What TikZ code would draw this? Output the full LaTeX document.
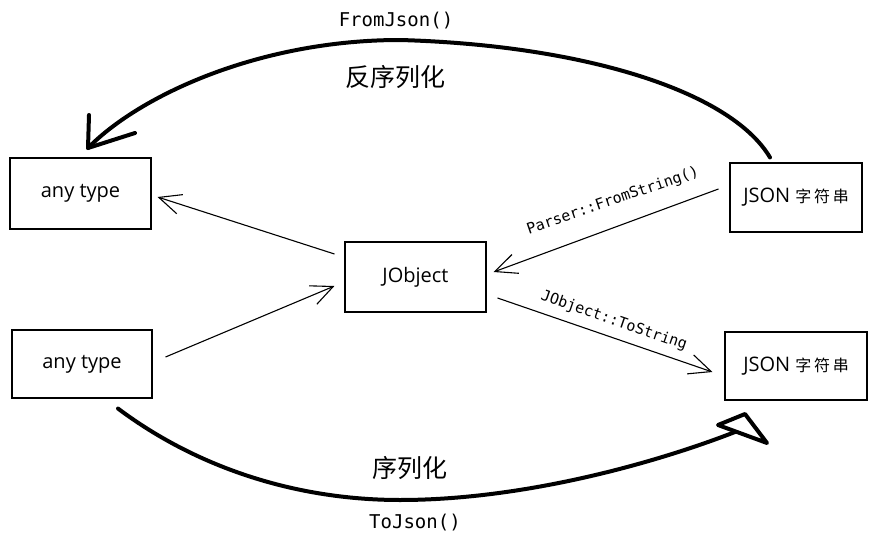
\documentclass[tikz,border=0pt]{standalone}
\usepackage{fontspec}
\setmainfont{Open Sans}
\setmonofont{DejaVu Sans Mono}
\newfontfamily\cjk{Noto Sans CJK SC}
\usetikzlibrary{arrows.meta,calc}
\tikzset{
  box/.style={draw=black,line width=1.1pt,inner sep=0pt,font=\fontsize{20}{20}\selectfont},
  thin/.style={line width=1.1pt,-{Straight Barb[length=22pt,width=20pt,line width=1.1pt]}},
  thick/.style={line width=4pt,line cap=round,line join=round},
  code/.style={font=\ttfamily\fontsize{19}{19}\selectfont,inner sep=0pt},
  smallcode/.style={font=\ttfamily\fontsize{15}{15}\selectfont,inner sep=0pt},
  zh/.style={font=\cjk\fontsize{25}{25}\selectfont,inner sep=0pt}
}
\newcommand{\zhsmall}[1]{{\cjk\fontsize{16}{16}\selectfont #1}}
\begin{document}
\begin{tikzpicture}[x=1pt,y=-1pt]
\useasboundingbox (0,0) rectangle (881,546);
% boxes
\node[box,minimum width=141pt,minimum height=71pt] (any1) at (80.5,193.5) {any type};
\node[box,minimum width=140pt,minimum height=68pt] (any2) at (82,364) {any type};
\node[box,minimum width=141pt,minimum height=70pt] (jobj) at (415.5,277) {JObject};
\node[box,minimum width=132pt,minimum height=69pt] (json1) at (796,197.5) {JSON \zhsmall{字\,符\,串}};
\node[box,minimum width=142pt,minimum height=68pt] (json2) at (796,366) {JSON \zhsmall{字\,符\,串}};
% thin connectors
\draw[thin] ($(jobj.west)+(-10,-23)$) -- ($(any1.east)+(6,3.5)$);
\draw[thin] ($(any2.east)+(13,-7)$) -- ($(jobj.west)+(-10,9)$);
\draw[thin] ($(json1.west)+(-11,-8.5)$) -- ($(jobj.east)+(7,-5)$);
\draw[thin] ($(jobj.east)+(11,21)$) -- ($(json2.west)+(-12,6)$);
% labels on thin connectors
\node[smallcode,rotate=19] (lparse) at (613,201) {Parser::FromString()};
\node[smallcode,rotate=-19] (ltostr) at (614,321) {JObject::ToString};
% big curves
\coordinate (tipA) at (88,148);
\coordinate (tipB) at (735,432);
\draw[thick] ($(json1.north)+(-26,-5)$) .. controls (730,90) and (580,45) .. (400,40)
  .. controls (260,40) and (140,95) .. (tipA);
\draw[thick] (89,115) -- (tipA) -- (135,133);
\draw[thick] ($(any2.south)+(36,10)$) .. controls (200,470) and (300,500) .. (400,500)
  .. controls (520,500) and (650,465) .. (tipB);
\draw[thick] (718,425) -- (745,414) -- (767,443) -- cycle;
% texts
\node[code] (fromjson) at (396,21) {FromJson()};
\node[zh] (fxlh) at (395,77) {反序列化};
\node[zh] (xlh) at (410,468) {序列化};
\node[code] (tojson) at (415,523) {ToJson()};
\end{tikzpicture}
\end{document}
